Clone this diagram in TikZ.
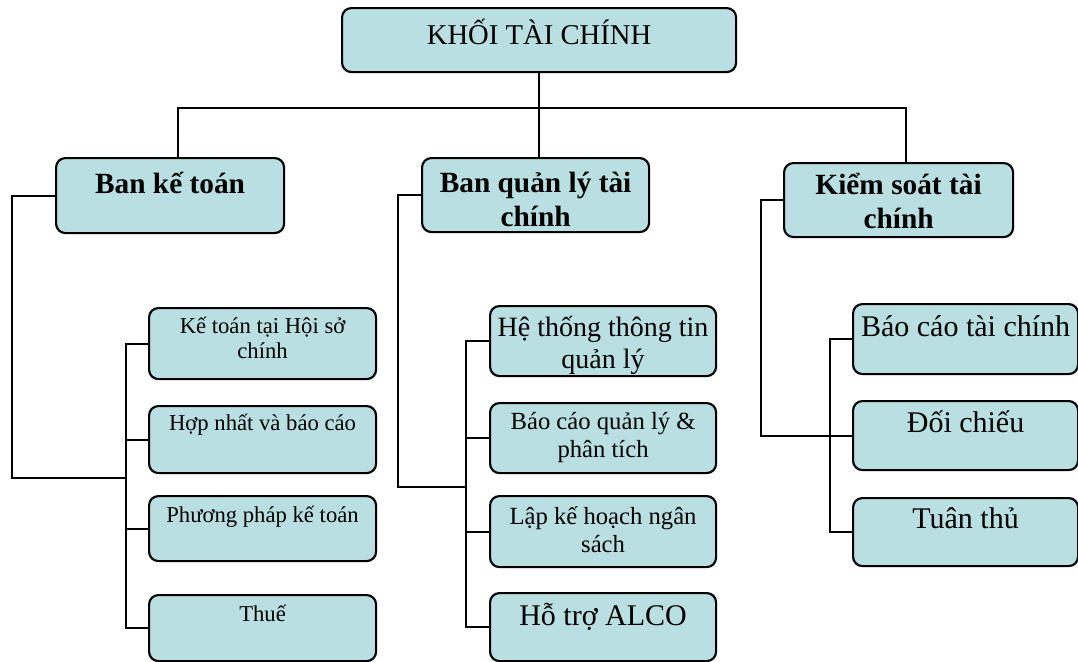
\documentclass[tikz,border=0pt]{standalone}
\usepackage{fontspec}
\setmainfont{Liberation Serif}
\definecolor{boxfill}{HTML}{B9DFE2}

% one unit = 0.75pt, y axis pointing down
\tikzset{
  box/.style={draw, line width=1.6pt, rounded corners=7pt, fill=boxfill,
              inner sep=0pt, anchor=north west},
  wire/.style={draw, line width=1.4pt},
}

% \orgbox{name}{x1}{y1}{x2}{y2}{first baseline below top}{font}{text}
\newcommand\orgbox[8]{%
  \node[box] (#1) at (#2,#3) {\parbox[c][\dimexpr0.75pt*(#5-#3)\relax][t]{\dimexpr0.75pt*(#4-#2)\relax}{%
      #7\centering\rule{0pt}{\dimexpr0.75pt*#6\relax}#8\par}};}

\newcommand\ftop{\fontsize{21.5}{25}\selectfont}
\newcommand\fhead{\fontsize{22}{26}\selectfont\bfseries}
\newcommand\fleft{\fontsize{17}{18.8}\selectfont}
\newcommand\fmidA{\fontsize{21}{24}\selectfont}
\newcommand\fmidB{\fontsize{18.5}{21.5}\selectfont}
\newcommand\fbig{\fontsize{22.5}{26}\selectfont}

\begin{document}
\begin{tikzpicture}[x=0.75pt, y=-0.75pt]
\useasboundingbox (0,0) rectangle (1078,661);

% top level
\orgbox{top}{341}{7}{735}{71}{36}{\ftop}{KHỐI TÀI CHÍNH}

% departments
\orgbox{dA}{55}{157}{283}{232}{35}{\fhead}{Ban kế toán}
\orgbox{dB}{421}{157}{648}{231}{34}{\fhead}{Ban quản lý tài\\chính}
\orgbox{dC}{783}{162}{1012}{236}{31}{\fhead}{Kiểm soát tài\\chính}

% units of Ban kế toán
\orgbox{a1}{148}{307}{375}{378}{25}{\fleft}{Kế toán tại Hội sở\\chính}
\orgbox{a2}{148}{405}{375}{472}{24}{\fleft}{Hợp nhất và báo cáo}
\orgbox{a3}{148}{495}{375}{560}{26}{\fleft}{Phương pháp kế toán}
\orgbox{a4}{148}{594}{375}{660}{26}{\fleft}{Thuế}

% units of Ban quản lý tài chính
\orgbox{b1}{489}{305}{715}{375}{30}{\fmidA}{Hệ thống thông tin\\quản lý}
\orgbox{b2}{489}{402}{715}{472}{26}{\fmidB}{Báo cáo quản lý \&\\phân tích}
\orgbox{b3}{489}{495}{715}{566}{28}{\fmidB}{Lập kế hoạch ngân\\sách}
\orgbox{b4}{489}{592}{715}{660}{32}{\fbig}{Hỗ trợ ALCO}

% units of Kiểm soát tài chính
\orgbox{c1}{852}{303}{1077}{373}{32}{\fbig}{Báo cáo tài chính}
\orgbox{c2}{852}{400}{1077}{469}{31}{\fbig}{Đối chiếu}
\orgbox{c3}{852}{497}{1077}{565}{30}{\fbig}{Tuân thủ}

% spine positions
\coordinate (busL) at (178,108);
\coordinate (busR) at (906,108);
\coordinate (outA) at (12,478);
\coordinate (inA) at (126,0);
\coordinate (outB) at (398,487);
\coordinate (inB) at (466,0);
\coordinate (outC) at (761,0);
\coordinate (inC) at (830,0);

% top level to departments
\draw[wire] (top.south) -- (top.south |- dB.north);
\draw[wire] (busL |- dA.north) -- (busL) -- (busR) -- (busR |- dC.north);

% Ban kế toán
\draw[wire] (dA.west) -| (outA) -- (inA |- outA);
\draw[wire] (a1.west) -| (inA |- a4.west) -- (a4.west);
\draw[wire] (a2.west) -- (inA |- a2.west);
\draw[wire] (a3.west) -- (inA |- a3.west);

% Ban quản lý tài chính
\draw[wire] (dB.west) -| (outB) -- (inB |- outB);
\draw[wire] (b1.west) -| (inB |- b4.west) -- (b4.west);
\draw[wire] (b2.west) -- (inB |- b2.west);
\draw[wire] (b3.west) -- (inB |- b3.west);

% Kiểm soát tài chính
\draw[wire] (dC.west) -| (outC |- c2.west) -- (c2.west);
\draw[wire] (c1.west) -| (inC |- c3.west) -- (c3.west);
\end{tikzpicture}
\end{document}
